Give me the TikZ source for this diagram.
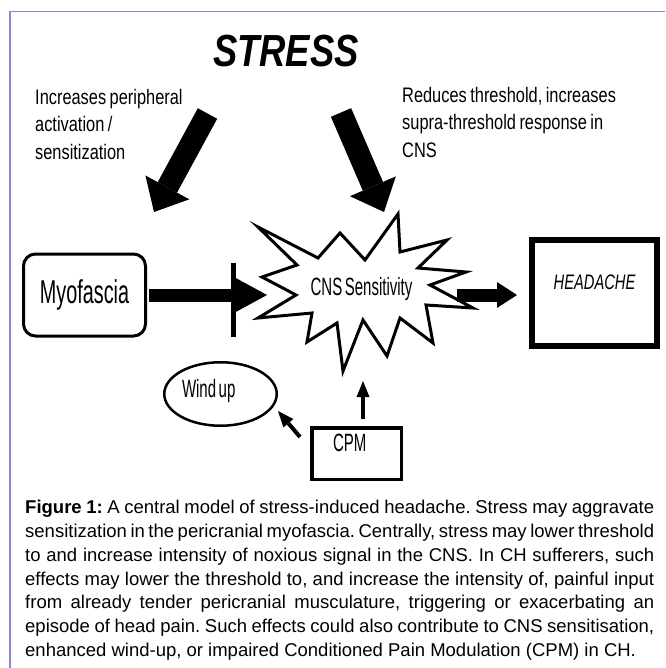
\documentclass[tikz,border=0pt]{standalone}
\usepackage{fontspec}
\setmainfont[WordSpace={1,1,1.6}]{Liberation Sans}
\newfontfamily\titlefont[FakeStretch=0.81,WordSpace=0.81]{Liberation Sans}
\newfontfamily\notefont[FakeStretch=0.78,WordSpace=0.78]{Liberation Sans}
\newfontfamily\boxfont[FakeStretch=0.6,WordSpace=0.6]{Liberation Sans}
\newfontfamily\headfont[FakeStretch=0.7,WordSpace=0.7]{Liberation Sans}
\usetikzlibrary{arrows.meta,shapes.geometric}
\definecolor{framepurple}{RGB}{150,130,200}
\frenchspacing

\begin{document}
\begin{tikzpicture}[x=1pt, y=-1pt,
    bigarrow/.style={line width=22pt, -{Triangle[length=28pt,width=50pt,line width=0pt]}},
    flatarrow/.style={line width=13pt, -{Triangle[length=34pt,width=37pt,line width=0pt]}},
    midarrow/.style={line width=13pt, -{Triangle[length=20pt,width=26pt,line width=0pt]}},
    thinarrow/.style={line width=4pt, -{Triangle[length=16pt,width=13pt,line width=0pt]}},
    notetext/.style={anchor=north west, align=left, inner sep=0, font=\notefont\fontsize{21}{27.5}\selectfont},
    labeltext/.style={font=\boxfont\fontsize{25}{30}\selectfont}]
    \useasboundingbox (0,0) rectangle (665,668);
    \draw[framepurple, line width=1.5pt] (665,11.5) -- (10,11.5) -- (10,668);

    \node[inner sep=0, font=\titlefont\bfseries\itshape\fontsize{45}{50}\selectfont] (stress) at (286,51) {STRESS};
    \node[notetext] (peripheral) at (35,89) {\spaceskip=0pt Increases peripheral\\activation /\\sensitization};
    \node[notetext] (central) at (402,87) {\spaceskip=0pt Reduces threshold, increases\\supra-threshold response in\\CNS};

    \coordinate (lefttail) at (207.5,113.5);
    \coordinate (lefttip) at (154,212);
    \draw[bigarrow] (lefttail) -- (lefttip);
    \coordinate (righttail) at (341,112.5);
    \coordinate (righttip) at (384,212);
    \draw[bigarrow] (righttail) -- (righttip);

    \node[draw, rounded corners=12pt, line width=3pt, minimum width=122pt, minimum height=82pt, font=\boxfont\fontsize{33}{40}\selectfont] (myo) at (84.5,295) {Myofascia};

    \node[labeltext, inner sep=0] (cns) at (361.5,289) {CNS Sensitivity};
    \draw[line width=3pt, miter limit=20] (258,227) -- (318,258) -- (340,233) -- (365,260) -- (398,214) -- (400,252) -- (447,240) -- (418,268) -- (466,272) -- (430,285) -- (473,308) -- (426,305) -- (433,343) -- (400,318) -- (387,356) -- (363,320) -- (343,371) -- (337,323) -- (307,342) -- (312,313) -- (258,318) -- (296,295) -- (262,277) -- (297,265) -- cycle;

    \coordinate (cnsin) at (267,295);
    \draw[flatarrow, shorten <=2pt] (myo.east) -- (cnsin);
    \coordinate (bartop) at (233,263);
    \coordinate (barbottom) at (233,337);
    \draw[line width=5pt] (bartop) -- (barbottom);

    \node[draw, line width=6pt, minimum width=125pt, minimum height=106pt, text depth=21pt, font=\headfont\itshape\fontsize{21}{25}\selectfont] (head) at (594.5,293) {HEADACHE};
    \coordinate (cnsout) at (457,295);
    \draw[midarrow, shorten >=12pt] (cnsout) -- (cnsout -| head.west);

    \node[draw, ellipse, line width=2.5pt, minimum width=112.5pt, minimum height=63.5pt, inner sep=0, text width=77pt, align=left, text depth=11pt, labeltext] (windup) at (220.5,394) {\spaceskip=0pt Wind up};

    \node[draw, line width=3.5pt, minimum width=89.5pt, minimum height=51.5pt, inner sep=0, text width=47pt, align=left, text depth=21pt, labeltext] (cpm) at (356.5,453.5) {CPM};
    \coordinate (cnsbottom) at (363,381);
    \draw[thinarrow, shorten <=6.75pt] (cpm.north -| cnsbottom) -- (cnsbottom);
    \coordinate (windtail) at (300,437);
    \coordinate (windtip) at (278,411);
    \draw[thinarrow] (windtail) -- (windtip);

    \node[anchor=north west, inner sep=0, text width=629pt, align=justify, font=\fontsize{18.5}{23.8}\selectfont] (caption) at (25,500) {\textbf{Figure 1:} A central model of stress-induced headache. Stress may aggravate\linebreak sensitization in the pericranial myofascia. Centrally, stress may lower threshold\linebreak to and increase intensity of noxious signal in the CNS. In CH sufferers, such\linebreak effects may lower the threshold to, and increase the intensity of, painful input\linebreak from already tender pericranial musculature, triggering or exacerbating an\linebreak episode of head pain. Such effects could also contribute to CNS sensitisation,\linebreak enhanced wind-up, or impaired Conditioned Pain Modulation (CPM) in CH.};
\end{tikzpicture}
\end{document}
